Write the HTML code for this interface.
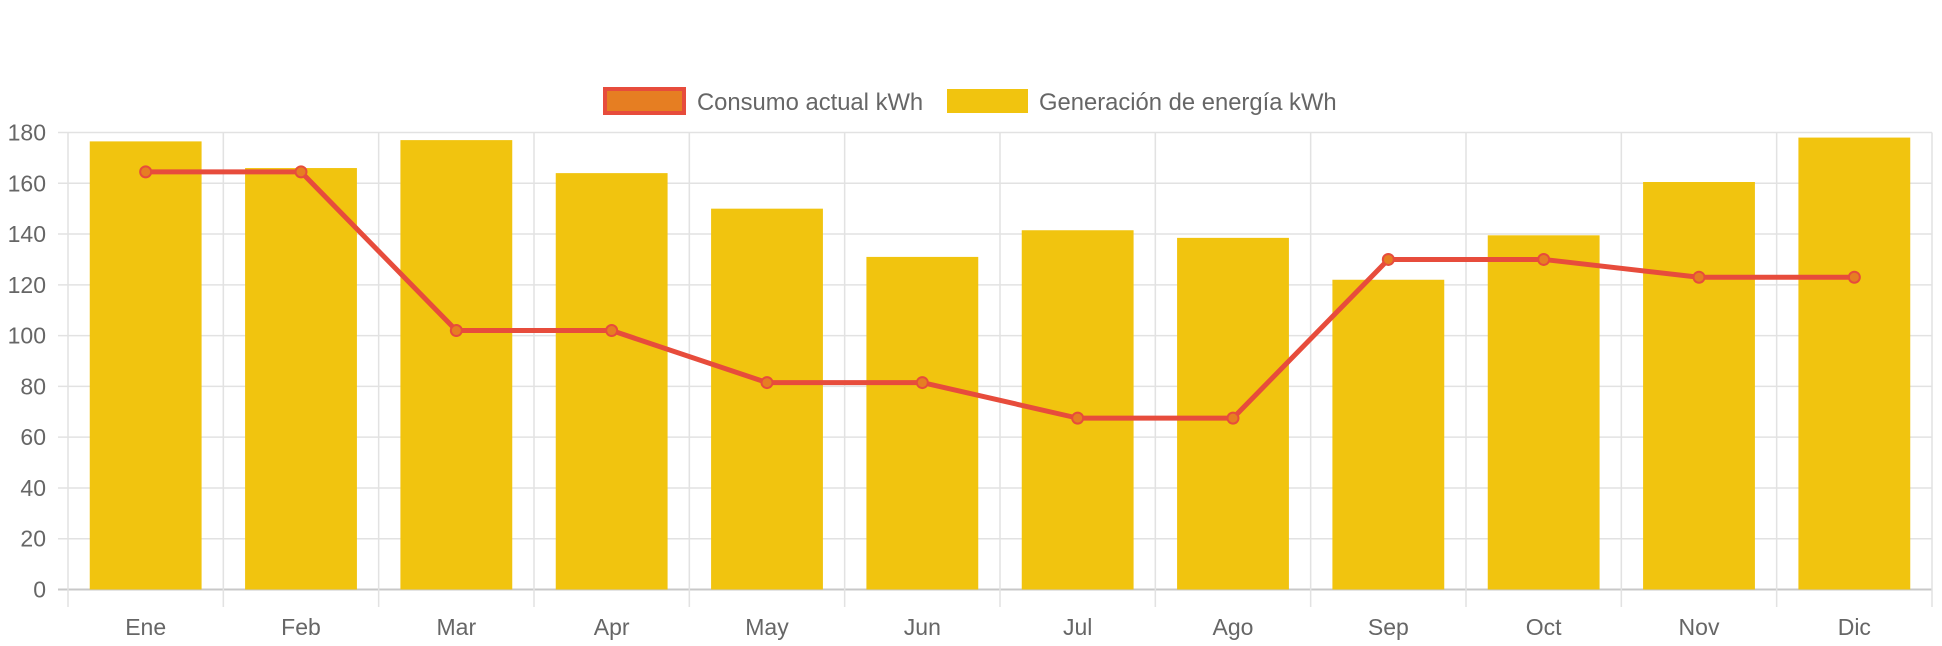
<!DOCTYPE html>
<html><head><meta charset="utf-8"><style>
html,body{margin:0;padding:0;background:#fff;}
svg{display:block;font-family:"Liberation Sans",Arial,sans-serif;}
</style></head><body>
<svg id="chart" width="1942" height="646">
<g id="legend">
<g>
<rect x="605" y="89" width="79" height="24" fill="#e67e22" stroke="#e74c3c" stroke-width="4"/>
<text x="697" y="110" font-size="23.8" fill="#666">Consumo actual kWh</text></g>
<g>
<rect x="947" y="89" width="81" height="24" fill="#f1c40f"/>
<text x="1039" y="110" font-size="23.8" fill="#666">Generación de energía kWh</text></g>
</g>
<g id="grid"></g>
<g id="bars"></g>
<g id="line"></g>
<g id="labels"></g>
</svg>
<script>
const categories=["Ene","Feb","Mar","Apr","May","Jun","Jul","Ago","Sep","Oct","Nov","Dic"];
const generation=[176.5,166,177,164,150,131,141.5,138.5,122,139.5,160.5,178];
const consumption=[164.5,164.5,102,102,81.5,81.5,67.5,67.5,130,130,123,123];
const yTicks=[0,20,40,60,80,100,120,140,160,180];
const NS="http://www.w3.org/2000/svg";
const L=68,R=1932,T=132.5,B=589.5,yMax=180;
const cw=(R-L)/categories.length;
const y=v=>B-(v/yMax)*(B-T);
const xc=i=>L+cw*(i+0.5);
function mk(tag,attrs,parent){const e=document.createElementNS(NS,tag);for(const k in attrs)e.setAttribute(k,attrs[k]);document.getElementById(parent).appendChild(e);return e;}
yTicks.forEach(t=>{
  const g=mk("line",{x1:L-10,x2:R,y1:y(t),y2:y(t),stroke:t===0?"#c8c8c8":"#e2e2e2","stroke-width":t===0?2:1.5},"grid");
  
  
  const tx=mk("text",{x:46,y:y(t)+8,"text-anchor":"end","font-size":23,fill:"#666"},"labels");
  tx.textContent=t;
  
  
});
for(let i=0;i<=categories.length;i++){
  const x=L+cw*i;
  const g=mk("line",{x1:x,x2:x,y1:T,y2:607,stroke:"#e2e2e2","stroke-width":1.5},"grid");
  
  
}
const bw=cw*0.72;
generation.forEach((v,i)=>{
  const r=mk("rect",{x:xc(i)-bw/2,y:y(v),width:bw,height:B-y(v),fill:"#f1c40f"},"bars");
  
  
  const tx=mk("text",{x:xc(i),y:635,"text-anchor":"middle","font-size":23,fill:"#666"},"labels");
  tx.textContent=categories[i];
  
  
});
const pts=consumption.map((v,i)=>xc(i)+","+y(v)).join(" ");
const pl=mk("polyline",{points:pts,fill:"none",stroke:"#e74c3c","stroke-width":5,"stroke-linejoin":"round"},"line");


consumption.forEach((v,i)=>{
  const c=mk("circle",{cx:xc(i),cy:y(v),r:5.5,fill:"#e67e22",stroke:"#e74c3c","stroke-width":2},"line");
  
  
});
</script>
</body></html>
